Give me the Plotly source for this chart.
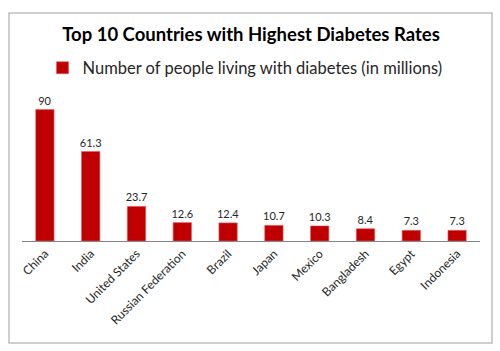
import plotly.graph_objects as go

countries = ["China", "India", "United States", "Russian Federation", "Brazil",
             "Japan", "Mexico", "Bangladesh", "Egypt", "Indonesia"]
values = [90, 61.3, 23.7, 12.6, 12.4, 10.7, 10.3, 8.4, 7.3, 7.3]
value_labels = ["90", "61.3", "23.7", "12.6", "12.4", "10.7", "10.3", "8.4", "7.3", "7.3"]
series_name = "Number of people living with diabetes (in millions)"
title_text = "Top 10 Countries with Highest Diabetes Rates"

W, H = 500, 351
L, R, T, B = 22, 20, 95, 110

fig = go.Figure()
fig.add_trace(go.Bar(
    x=countries, y=values, name=series_name,
    marker=dict(color="#C00000", line=dict(color="#E05A5A", width=0.6)),
    text=value_labels, textposition="outside", constraintext="none",
    textfont=dict(family="Lato", size=11, color="#262626"),
    cliponaxis=False,
))

pw = W - L - R
ph = H - T - B
fig.add_shape(type="rect", xref="paper", yref="paper",
              x0=(9 - L) / pw, x1=(492 - L) / pw,
              y0=(H - B - 343) / ph, y1=(H - B - 13) / ph,
              line=dict(color="#BFBFBF", width=1.5), fillcolor="rgba(0,0,0,0)",
              layer="below")

fig.update_layout(
    width=W, height=H,
    margin=dict(l=L, r=R, t=T, b=B, autoexpand=False),
    paper_bgcolor="white", plot_bgcolor="white",
    bargap=0.6,
    title=dict(text="<b>" + title_text + "</b>", x=0.5, xanchor="center",
               xref="paper", y=1 - 35 / H, yref="container", yanchor="middle",
               font=dict(family="Lato", size=18.5, color="#000000")),
    showlegend=True,
    legend=dict(orientation="h", x=(245 - L) / pw, xanchor="center",
                yref="container", y=1 - 68 / H, yanchor="middle",
                itemwidth=30,
                font=dict(family="Lato", size=16.5, color="#262626"),
                bgcolor="rgba(0,0,0,0)"),
    xaxis=dict(showline=True, linecolor="#868686", linewidth=1,
               ticks="", tickangle=-45,
               tickfont=dict(family="Lato", size=12, color="#262626"),
               showgrid=False),
    yaxis=dict(range=[0, 100], visible=False, showgrid=False),
)

fig.write_html("out.html")
